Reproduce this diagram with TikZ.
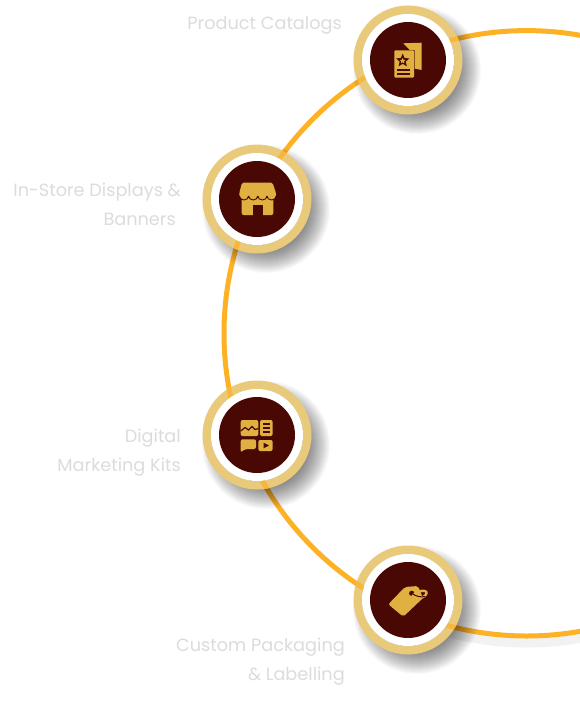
\documentclass[tikz,border=0pt]{standalone}
\usepackage{fontspec}
\setmainfont{Poppins}
\usepackage{tikz}
\usetikzlibrary{shapes.geometric}
\definecolor{ringgold}{HTML}{E9C97A}
\definecolor{arcgold}{HTML}{FDB226}
\definecolor{iconbrown}{HTML}{4A0804}
\definecolor{icongold}{HTML}{E0B040}
\definecolor{labelgray}{HTML}{DCDCDC}
\tikzset{
    arcline/.style={draw=arcgold, line width=5pt},
    ringnode/.style={circle, draw=ringgold, line width=8.5pt, minimum size=100.5pt, inner sep=0pt},
    whitenode/.style={circle, fill=white, minimum size=92pt, inner sep=0pt},
    discnode/.style={circle, fill=iconbrown, minimum size=76pt, inner sep=0pt},
    labelnode/.style={text=labelgray, font=\fontsize{17.7}{29}\selectfont, align=right, inner sep=0pt},
    shadowdisc/.style={fill=black, opacity=.022},
    iconfill/.style={fill=icongold, draw=none},
    iconcut/.style={fill=iconbrown, draw=none},
    iconline/.style={draw=iconbrown, line width=1.3pt}
}
\begin{document}
\begin{tikzpicture}[x=1pt, y=-1pt]
    \useasboundingbox (0,0) rectangle (580,716);
    \clip (0,0) rectangle (580,716);
    \fill[white] (0,0) rectangle (580,716);

    % 1. Draw the big circle behind the nodes
    \coordinate (hub) at (526.7,333.3);
    \draw[arcline] (hub) circle (302.7pt);

    % 1a. Faint shade under the lower part of the circle
    \begin{scope}
        \clip (440,600) rectangle (580,716);
        \draw[black, opacity=.05, line width=9pt] (526.7,340.3) circle (302.7pt);
    \end{scope}

    % 2. Draw the four rings with their discs
    \foreach \name/\x/\y in {catalog/408/60, store/257/199, digital/257/435, tag/408/600} {
        \foreach \r in {42,43,...,64} {
            \fill[shadowdisc] (\x+9,\y+10) circle (\r pt);
        }
        \node[ringnode] (ring\name) at (\x,\y) {};
        % 2a. The circle shows through the ring
        \begin{scope}
            \clip (\x,\y) circle (54.5pt);
            \draw[arcline, opacity=.75] (hub) circle (302.7pt);
        \end{scope}
        \node[whitenode] (white\name) at (\x,\y) {};
        \node[discnode] (disc\name) at (\x,\y) {};
    }

    % 3. Add the labels
    \node[labelnode, anchor=east] (labelcatalog) at (342,25) {Product Catalogs};
    \node[labelnode, anchor=east] (labelstore) at (181,204.5) {In-Store Displays \&\\Banners\kern5pt};
    \node[labelnode, anchor=east] (labeldigital) at (181,452.5) {Digital\\Marketing Kits};
    \node[labelnode, anchor=east] (labeltag) at (345,661.5) {Custom Packaging\\\& Labelling};

    % 4. Catalog icon
    \fill[iconfill] (403.3,43.3) -- (421.7,42.7) -- (421.7,70) -- (414.5,68.5) -- (414.5,50) -- (410,50) -- cycle;
    \fill[iconfill, rounded corners=1pt] (394.3,50.3) rectangle (414,77.7);
    \node[star, star points=5, star point ratio=2.2, fill=iconbrown, minimum size=14pt, inner sep=0pt] (starout) at (402.7,60.6) {};
    \node[star, star points=5, star point ratio=2.2, fill=icongold, minimum size=6pt, inner sep=0pt] (starin) at (402.7,60.9) {};
    \draw[iconline] (397,70) -- (410,70);
    \draw[iconline] (397,74) -- (410,74);

    % 5. Store icon
    \fill[iconfill, rounded corners=2pt] (241.7,198) rectangle (273.3,215);
    \fill[iconcut] (252.7,205) rectangle (262.7,215.5);
    \fill[iconfill, rounded corners=1.5pt] (242,182.7) -- (272.5,182.7) -- (276,193) -- (276,196) -- (239.3,196) -- (239.3,193) -- cycle;
    \foreach \x in {244,253.2,262.4,271.6} {
        \fill[iconfill] (\x,195) circle (4.6pt);
        \draw[iconbrown, line width=.9pt] (\x-4.6,196) arc (180:360:4.6pt and 4pt);
    }

    % 6. Digital kit icon
    \fill[iconfill, rounded corners=2pt] (240.7,420) rectangle (258.3,436);
    \draw[iconbrown, line width=1.2pt] (240.7,431) -- (245,427.5) -- (248.5,430) -- (252,426.5) -- (255,429.5) -- (258.3,428.5);
    \fill[iconfill, rounded corners=2pt] (260,420) rectangle (272.7,436);
    \foreach \y in {424,428,432} {
        \draw[iconbrown, line width=1.1pt] (263,\y) -- (270,\y);
    }
    \fill[iconfill, rounded corners=2pt] (240.7,439.3) -- (256,439.3) -- (256,449) -- (245,449) -- (240.7,452.5) -- cycle;
    \fill[iconfill, rounded corners=2pt] (258.3,440) rectangle (272.7,451);
    \fill[iconcut] (263.5,442.7) -- (269,445.5) -- (263.5,448.3) -- cycle;

    % 7. Tag icon
    \fill[iconfill, rounded corners=2pt] (388.3,604.3) -- (405,587) -- (418,586) -- (423,598) -- (403.3,616.7) -- cycle;
    \fill[iconcut] (411.7,593.3) circle (2.6pt);
    \draw[icongold, line width=2.4pt, rotate around={22:(419.5,595)}] (419.5,595) ellipse (7.5pt and 3.4pt);
    \draw[iconbrown, line width=1pt] (411.7,593.3) .. controls (416,596.5) and (421,597.5) .. (425,596.5);

\end{tikzpicture}
\end{document}
